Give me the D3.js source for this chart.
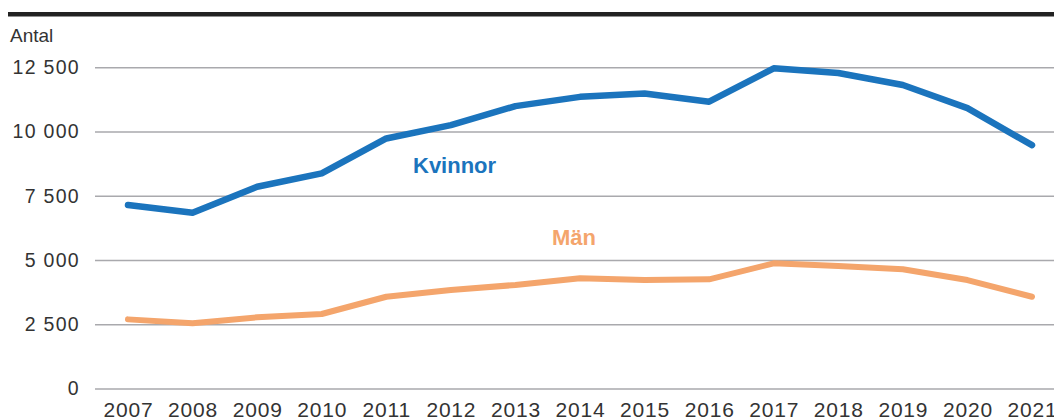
<!DOCTYPE html>
<html>
<head>
<meta charset="utf-8">
<script src="https://cdn.jsdelivr.net/npm/d3@7"></script>
<style>
  html, body { margin: 0; padding: 0; background: #fff; }
  svg { display: block; font-family: "Liberation Sans", Arial, Helvetica, sans-serif; }
</style>
</head>
<body>
<svg id="chart" width="1054" height="420"></svg>
<script>
// Antal per år, kvinnor och män
const years = [2007, 2008, 2009, 2010, 2011, 2012, 2013, 2014, 2015, 2016, 2017, 2018, 2019, 2020, 2021];
const kvinnor = [7140, 6840, 7850, 8370, 9730, 10250, 10990, 11350, 11480, 11160, 12460, 12280, 11810, 10910, 9470];
const man = [2690, 2540, 2770, 2900, 3570, 3830, 4030, 4290, 4220, 4250, 4870, 4770, 4640, 4220, 3570];
const yTicks = [0, 2500, 5000, 7500, 10000, 12500];
const seriesNames = ["Kvinnor", "Män"];
const yTitle = "Antal";

const svg = d3.select("#chart");
const W = 1054;

const x = d3.scalePoint().domain(years).range([128, 1032]);
const y = d3.scaleLinear().domain([0, 12500]).range([388.5, 67.3]);

const fmt = v => d3.format(",")(v).replace(/,/g, " ");

// Top rule
svg.append("rect").attr("x", 8).attr("y", 12).attr("width", W - 8).attr("height", 4.5).attr("fill", "#222");

// Y title
svg.append("text").attr("x", 10).attr("y", 42)
  .attr("font-size", 19).attr("fill", "#333").text(yTitle);

// Y axis: gridlines + labels
const yAxis = d3.axisLeft(y).tickValues(yTicks).tickSize(-(W - 95)).tickFormat(fmt).tickPadding(15);
const gy = svg.append("g").attr("transform", "translate(95,0)").call(yAxis);
gy.select(".domain").remove();
gy.selectAll(".tick line").attr("stroke", "#a9a9ad").attr("stroke-width", 1.6);
gy.selectAll(".tick text").attr("font-size", 19.5).attr("fill", "#333")
  .attr("font-family", "'Liberation Sans', Arial, sans-serif")
  .attr("letter-spacing", 1.3);

// X axis labels
const xAxis = d3.axisBottom(x).tickSize(0).tickPadding(0);
const gx = svg.append("g").attr("transform", "translate(0,402)").call(xAxis);
gx.select(".domain").remove();
gx.selectAll(".tick text").attr("font-size", 21).attr("fill", "#333")
  .attr("font-family", "'Liberation Sans', Arial, sans-serif")
  .attr("letter-spacing", 0.8);

// Lines
const line = d3.line().x((d, i) => x(years[i])).y(d => y(d));

svg.append("path").datum(man)
  .attr("fill", "none").attr("stroke", "#f4a56c").attr("stroke-width", 6)
  .attr("stroke-linejoin", "round").attr("stroke-linecap", "round")
  .attr("d", line);

svg.append("path").datum(kvinnor)
  .attr("fill", "none").attr("stroke", "#1b74bd").attr("stroke-width", 6.5)
  .attr("stroke-linejoin", "round").attr("stroke-linecap", "round")
  .attr("d", line);

// Series labels
svg.append("text").attr("x", 413).attr("y", 173)
  .attr("font-size", 22).attr("font-weight", "bold").attr("fill", "#1b74bd")
  .text(seriesNames[0]);
svg.append("text").attr("x", 552).attr("y", 245)
  .attr("font-size", 22).attr("font-weight", "bold").attr("fill", "#f4a56c")
  .text(seriesNames[1]);
</script>
</body>
</html>
